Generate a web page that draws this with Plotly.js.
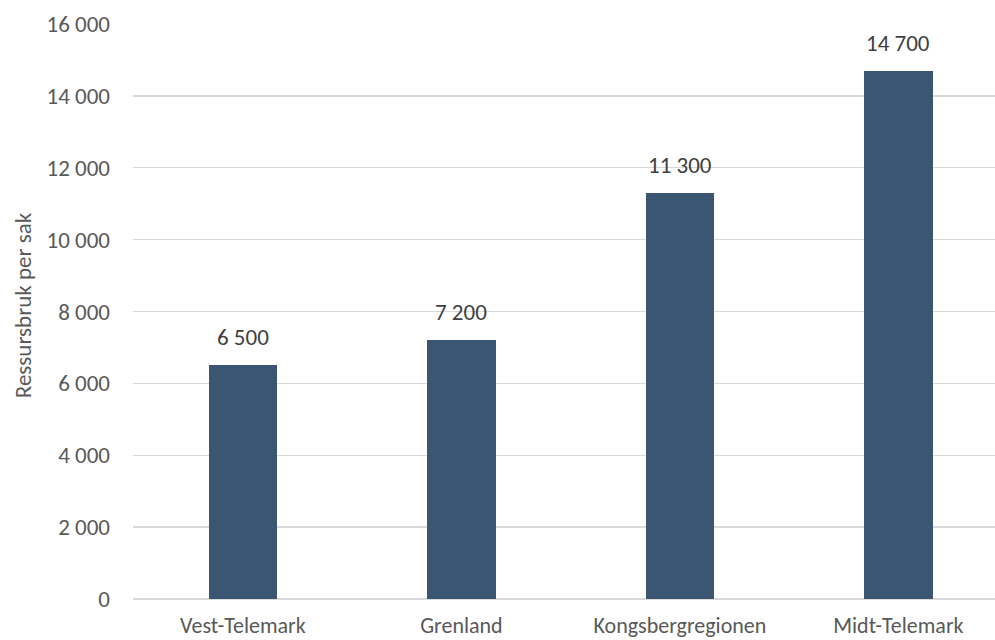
<!DOCTYPE html>
<html>
<head>
<meta charset="utf-8">
<script src="https://cdn.plot.ly/plotly-3.0.1.min.js"></script>
<style>html,body{margin:0;padding:0;background:#fff;}#chart{width:995px;height:640px;}</style>
</head>
<body>
<div id="chart"></div>
<script>
var categories = ["Vest-Telemark", "Grenland", "Kongsbergregionen", "Midt-Telemark"];
var values = [6500, 7200, 11300, 14700];
var yTicks = [0, 2000, 4000, 6000, 8000, 10000, 12000, 14000, 16000];
var yTitle = "Ressursbruk per sak";

var font = "Carlito, Calibri, Lato, 'Open Sans', sans-serif";
var fs = 23;

function fmt(v) {
  return String(v).replace(/\B(?=(\d{3})+(?!\d))/g, " ");
}

var trace = {
  type: "bar",
  x: categories,
  y: values,
  width: 0.313,
  marker: {color: "#3b5673"},
  hoverinfo: "none"
};

var annotations = categories.map(function (c, i) {
  return {
    x: c, y: values[i], xref: "x", yref: "y",
    text: fmt(values[i]), showarrow: false,
    yanchor: "bottom", yshift: 12,
    font: {family: font, size: fs, color: "#404040"}
  };
});

annotations.push({
  text: yTitle, textangle: -90, showarrow: false,
  xref: "paper", yref: "paper", x: 0, y: 0.511,
  xanchor: "center", yanchor: "middle", xshift: -110,
  font: {family: font, size: fs, color: "#595959"}
});

var layout = {
  width: 995, height: 640,
  margin: {l: 133, r: 0, t: 24, b: 41},
  paper_bgcolor: "#fff", plot_bgcolor: "#fff",
  separators: ", ",
  showlegend: false,
  font: {family: font, color: "#595959", size: fs},
  xaxis: {
    type: "category",
    range: [-0.503, 3.442],
    showgrid: false, showline: false, zeroline: false,
    ticks: "", ticklabelstandoff: 11,
    tickfont: {family: font, size: 22, color: "#595959"}
  },
  yaxis: {
    range: [0, 16000],
    tickvals: yTicks,
    tickformat: ",",
    showgrid: true, gridcolor: "#d9d9d9", gridwidth: 1.3,
    zeroline: true, zerolinecolor: "#d9d9d9", zerolinewidth: 1.3,
    showline: false, ticks: "", ticklabelstandoff: 22,
    tickfont: {family: font, size: fs, color: "#595959"}
  },
  annotations: annotations,
  bargap: 0
};

Plotly.newPlot("chart", [trace], layout, {staticPlot: true, displayModeBar: false});
</script>
</body>
</html>
